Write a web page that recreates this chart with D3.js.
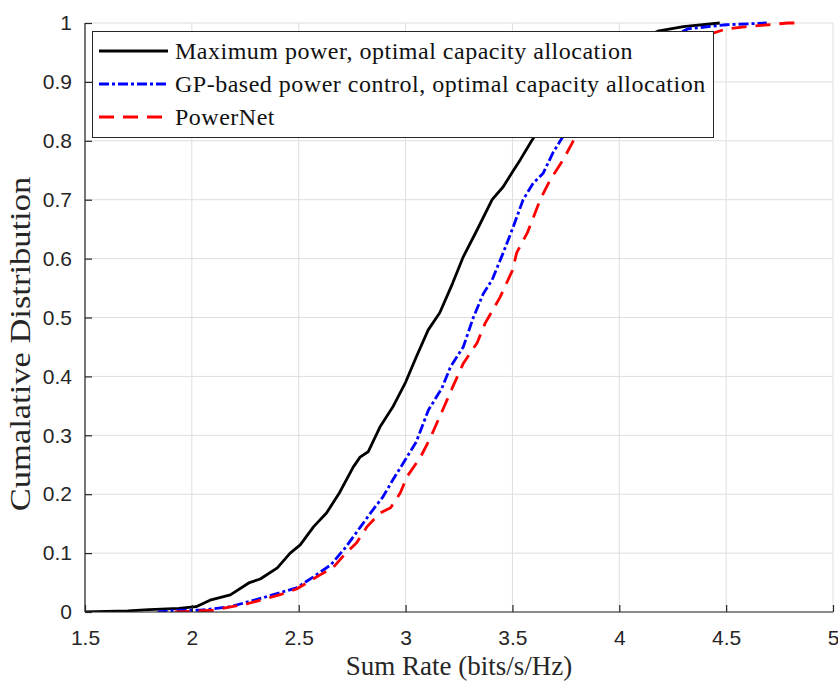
<!DOCTYPE html>
<html>
<head>
<meta charset="utf-8">
<title>Sum rate CDF</title>
<style>
  body { margin: 0; background: #fff; }
</style>
</head>
<body>
<div id="container"></div>
<script src="https://d3js.org/d3.v7.min.js"></script>
<script>

// values
const xTicks = [1.5, 2, 2.5, 3, 3.5, 4, 4.5, 5];
const yTicks = [0, 0.1, 0.2, 0.3, 0.4, 0.5, 0.6, 0.7, 0.8, 0.9, 1];

const maxPowerRate = [1.50, 1.60, 1.70, 1.80, 1.94, 2.02, 2.085, 2.18, 2.27, 2.32, 2.40, 2.46, 2.507, 2.57, 2.63, 2.69, 2.755, 2.787, 2.825, 2.88, 2.94, 3.00, 3.05, 3.106, 3.16, 3.22, 3.27, 3.335, 3.405, 3.457, 3.50, 3.537, 3.59, 3.70, 3.80, 3.95, 4.05, 4.18, 4.30, 4.47];
const maxPowerCdf  = [0.000, 0.001, 0.002, 0.004, 0.006, 0.009, 0.020, 0.029, 0.050, 0.056, 0.075, 0.100, 0.114, 0.145, 0.168, 0.202, 0.246, 0.263, 0.272, 0.314, 0.348, 0.390, 0.433, 0.479, 0.508, 0.558, 0.603, 0.649, 0.700, 0.722, 0.747, 0.768, 0.800, 0.860, 0.900, 0.940, 0.965, 0.986, 0.994, 1.000];

const gpRate = [1.84, 1.945, 2.04, 2.18, 2.33, 2.49, 2.57, 2.65, 2.72, 2.79, 2.84, 2.895, 2.94, 2.998, 3.05, 3.107, 3.17, 3.21, 3.27, 3.317, 3.363, 3.405, 3.457, 3.504, 3.55, 3.597, 3.644, 3.69, 3.724, 3.85, 4.00, 4.15, 4.32, 4.50, 4.69];
const gpCdf  = [0.000, 0.003, 0.003, 0.009, 0.024, 0.041, 0.060, 0.080, 0.110, 0.145, 0.170, 0.196, 0.224, 0.258, 0.289, 0.343, 0.380, 0.416, 0.450, 0.500, 0.540, 0.564, 0.610, 0.654, 0.700, 0.728, 0.745, 0.780, 0.800, 0.870, 0.920, 0.960, 0.990, 0.997, 1.000];

const powerNetRate = [1.92, 2.10, 2.26, 2.41, 2.49, 2.60, 2.66, 2.72, 2.77, 2.82, 2.88, 2.93, 2.975, 3.007, 3.07, 3.115, 3.17, 3.218, 3.27, 3.335, 3.372, 3.443, 3.50, 3.52, 3.57, 3.63, 3.677, 3.738, 3.785, 3.90, 4.05, 4.25, 4.50, 4.63, 4.79, 4.86];
const powerNetCdf  = [0.000, 0.003, 0.014, 0.029, 0.039, 0.063, 0.075, 0.100, 0.117, 0.145, 0.168, 0.177, 0.202, 0.230, 0.263, 0.295, 0.340, 0.380, 0.422, 0.457, 0.490, 0.535, 0.580, 0.610, 0.644, 0.700, 0.734, 0.768, 0.800, 0.860, 0.920, 0.960, 0.990, 0.995, 1.000, 1.000];

const seriesNames = [
  "Maximum power, optimal capacity allocation",
  "GP-based power control, optimal capacity allocation",
  "PowerNet"
];

const width = 838;
const height = 682;
const margin = {top: 23, right: 5, bottom: 70, left: 85};
const axisColor = "#262626";

const series = [
  {name: seriesNames[0], x: maxPowerRate, y: maxPowerCdf, color: "#000000", dash: null},
  {name: seriesNames[1], x: gpRate, y: gpCdf, color: "#0000ff", dash: "10,3,3,3"},
  {name: seriesNames[2], x: powerNetRate, y: powerNetCdf, color: "#ff0000", dash: "15,9"}
];

const xScale = d3.scaleLinear()
  .domain([1.5, 5])
  .range([margin.left, width - margin.right]);

const yScale = d3.scaleLinear()
  .domain([0, 1])
  .range([height - margin.bottom, margin.top]);

const svg = d3.select("#container")
  .append("svg")
  .attr("width", width)
  .attr("height", height);

// grid
svg.append("g")
  .selectAll("line")
  .data(xTicks)
  .enter().append("line")
    .attr("x1", d => xScale(d)).attr("x2", d => xScale(d))
    .attr("y1", yScale(0)).attr("y2", yScale(1))
    .style("stroke", "#dedede")
    .style("stroke-width", 1);

svg.append("g")
  .selectAll("line")
  .data(yTicks)
  .enter().append("line")
    .attr("x1", xScale(1.5)).attr("x2", xScale(5))
    .attr("y1", d => yScale(d)).attr("y2", d => yScale(d))
    .style("stroke", "#dedede")
    .style("stroke-width", 1);

svg.append("clipPath")
    .attr("id", "plot-clip")
  .append("rect")
    .attr("x", xScale(1.5))
    .attr("y", yScale(1) - 3)
    .attr("width", xScale(5) - xScale(1.5))
    .attr("height", yScale(0) - yScale(1) + 3);

const lineGenerator = d3.line()
  .x(d => xScale(d[0]))
  .y(d => yScale(d[1]));

svg.append("g")
    .attr("clip-path", "url(#plot-clip)")
  .selectAll("path")
  .data(series)
  .enter().append("path")
    .attr("d", s => lineGenerator(d3.zip(s.x, s.y)))
    .style("fill", "none")
    .style("stroke", s => s.color)
    .style("stroke-width", 2.8)
    .style("stroke-dasharray", s => s.dash)
    .style("stroke-linejoin", "round");

// axes, ticks inside like matlab
const xAxis = svg.append("g")
  .attr("transform", `translate(0, ${yScale(0)})`)
  .call(d3.axisBottom(xScale).tickValues(xTicks).tickSize(-7).tickPadding(18).tickFormat(d => d));

const yAxis = svg.append("g")
  .attr("transform", `translate(${xScale(1.5)}, 0)`)
  .call(d3.axisLeft(yScale).tickValues(yTicks).tickSize(-7).tickPadding(13).tickFormat(d => d));

[xAxis, yAxis].forEach(a => {
  a.select(".domain").style("stroke", axisColor).style("stroke-width", 1.2);
  a.selectAll(".tick line").style("stroke", axisColor).style("stroke-width", 1.2);
  a.selectAll(".tick text")
    .style("font-family", "'Liberation Sans', Arial, sans-serif")
    .style("font-size", "21px")
    .style("fill", axisColor);
});
// only the bottom and left axis lines are drawn
yAxis.select(".domain").attr("d", `M0,${yScale(0)}V${yScale(1)}`);
xAxis.select(".domain").attr("d", `M${xScale(1.5)},0H${xScale(5)}`);

svg.append("text")
  .attr("x", (xScale(1.5) + xScale(5)) / 2)
  .attr("y", 675)
  .attr("text-anchor", "middle")
  .style("font-family", "'Liberation Serif', 'Times New Roman', serif")
  .style("font-size", "27px")
  .style("fill", axisColor)
  .text("Sum Rate (bits/s/Hz)");

svg.append("text")
  .attr("transform", "translate(30, 344) rotate(-90) scale(1, 0.88)")
  .attr("text-anchor", "middle")
  .style("font-family", "'Liberation Serif', 'Times New Roman', serif")
  .style("font-size", "34.5px")
  .style("fill", axisColor)
  .text("Cumalative Distribution");

// legend
const legend = svg.append("g");
legend.append("rect")
  .attr("x", 92.5).attr("y", 31.5)
  .attr("width", 621).attr("height", 106)
  .style("fill", "#fff")
  .style("stroke", axisColor)
  .style("stroke-width", 1);

const rows = legend.selectAll(".row")
  .data(series)
  .enter().append("g")
    .attr("class", "row")
    .attr("transform", (d, i) => `translate(0, ${51 + i * 33})`);

rows.append("line")
  .attr("x1", 99).attr("x2", 168)
  .attr("y1", 0).attr("y2", 0)
  .style("stroke", d => d.color)
  .style("stroke-width", 2.8)
  .style("stroke-dasharray", d => d.dash);

rows.append("text")
  .attr("x", 175)
  .attr("y", 8)
  .style("font-family", "'Liberation Serif', 'Times New Roman', serif")
  .style("font-size", "24px")
  .style("letter-spacing", "0.5px")
  .style("fill", "#111")
  .text(d => d.name);

</script>
</body>
</html>
